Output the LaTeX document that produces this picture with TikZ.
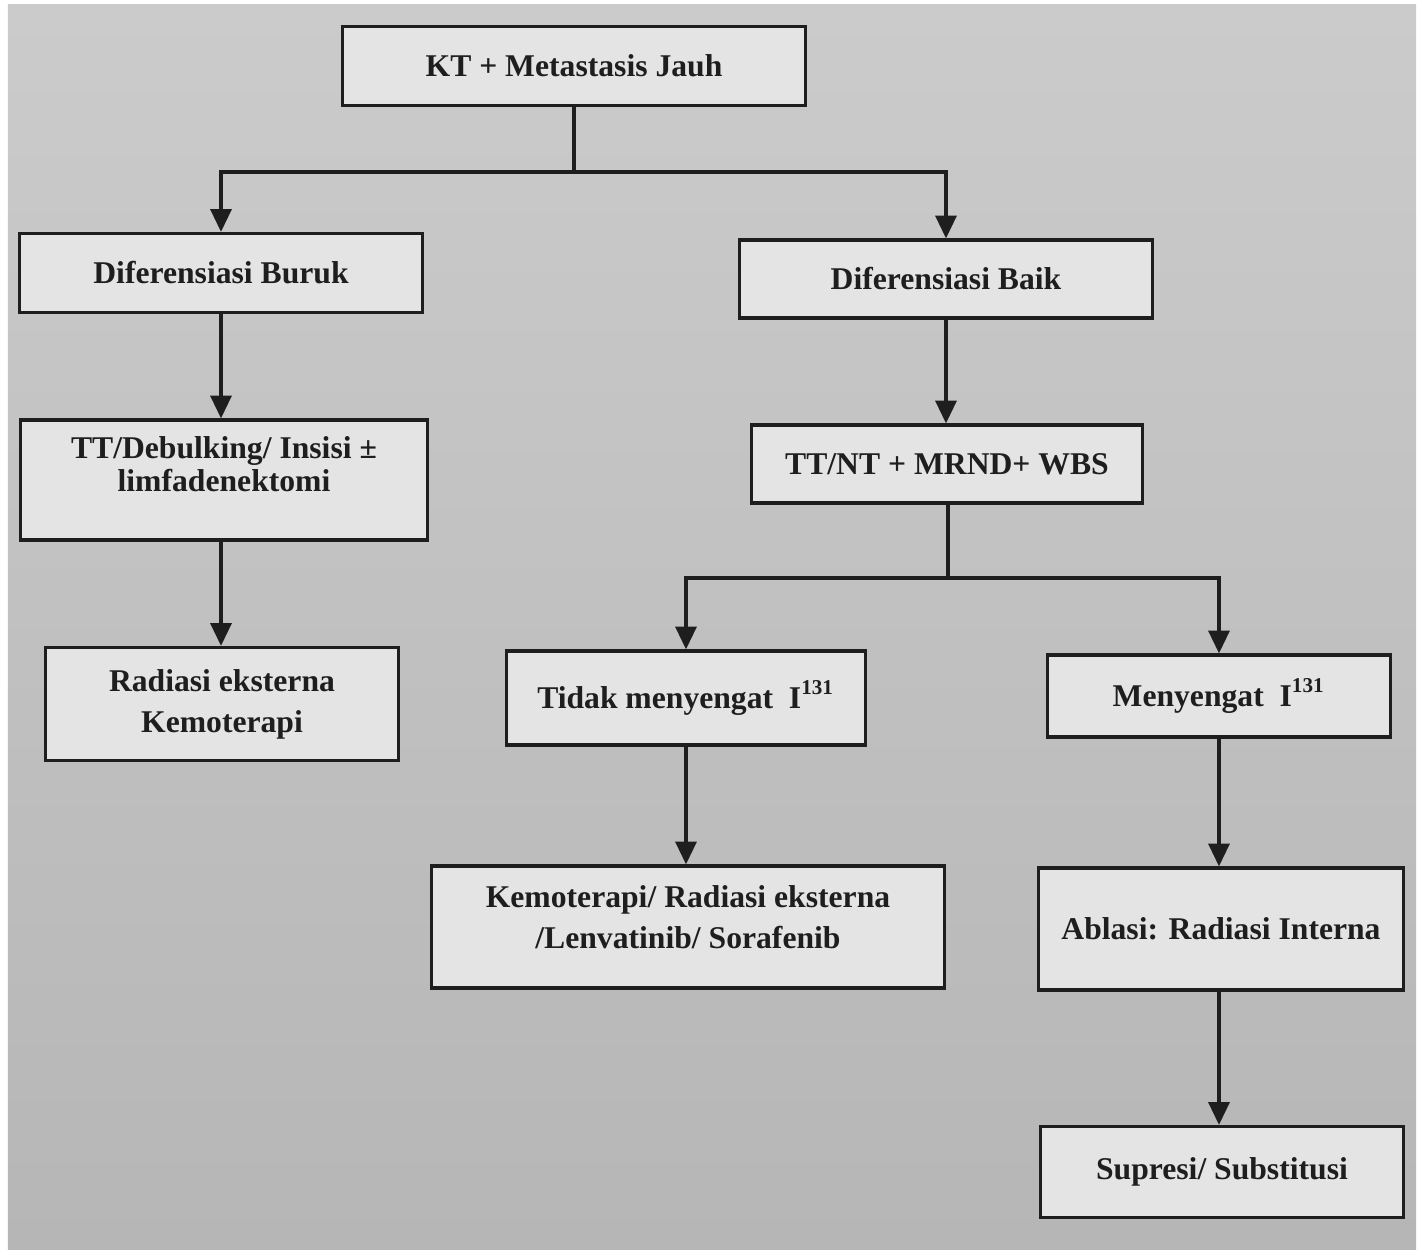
\documentclass[tikz,border=0pt]{standalone}
\usepackage{fontspec}
\setmainfont{Liberation Serif}
\usetikzlibrary{arrows.meta,positioning}
\definecolor{bgtop}{RGB}{203,203,203}
\definecolor{bgbot}{RGB}{182,182,182}
\definecolor{boxfill}{RGB}{228,228,228}
\definecolor{ink}{RGB}{30,30,30}
\tikzset{
  box/.style={draw=ink, line width=0.9pt, fill=boxfill, rectangle, align=center,
    font=\bfseries\fontsize{9}{11.6}\selectfont, text=ink, inner sep=0pt},
  conn/.style={draw=ink, line width=0.9pt},
  arr/.style={conn, -{Triangle[width=6pt,length=6.5pt]}}
}
\begin{document}
\begin{tikzpicture}[x=0.01cm,y=-0.01cm]
\useasboundingbox (0,0) rectangle (1423,1255);
\fill[white] (0,0) rectangle (1423,1255);
\shade[top color=bgtop, bottom color=bgbot] (8,5) rectangle (1416,1250);

\node[box, minimum width=4.62cm, minimum height=0.79cm] (kt) at (574,66) {KT + Metastasis Jauh};
\node[box, minimum width=4.02cm, minimum height=0.79cm] (buruk) at (221,273) {Diferensiasi Buruk};
\node[box, minimum width=4.13cm, minimum height=0.78cm] (baik) at (946,279) {Diferensiasi Baik};
\node[box, minimum width=4.07cm, minimum height=1.20cm] (tt) at (224,480) {\raisebox{3.7pt}[\height][\depth]{\begin{tabular}{@{}c@{}}TT/Debulking/ Insisi ±\\[-2.2pt]limfadenektomi\end{tabular}}};
\node[box, minimum width=3.90cm, minimum height=0.78cm] (ttnt) at (947,464) {TT/NT + MRND+ WBS};
\node[box, minimum width=3.53cm, minimum height=1.13cm] (rad) at (222,704) {Radiasi eksterna\\Kemoterapi};
\node[box, minimum width=3.59cm, minimum height=0.94cm] (tidak) at (686,698) {Tidak menyengat\enspace I\textsuperscript{131}};
\node[box, minimum width=3.42cm, minimum height=0.82cm] (meny) at (1219,696) {Menyengat\enspace I\textsuperscript{131}};
\node[box, minimum width=5.13cm, minimum height=1.22cm] (kemo) at (688,927) {\raisebox{2pt}[\height][\depth]{\begin{tabular}{@{}c@{}}Kemoterapi/ Radiasi eksterna\\/Lenvatinib/ Sorafenib\end{tabular}}};
\node[box, minimum width=3.64cm, minimum height=1.22cm] (abl) at (1221,929) {Ablasi: Radiasi Interna};
\node[box, minimum width=3.62cm, minimum height=0.91cm] (sup) at (1222,1172) {Supresi/ Substitusi};

\coordinate (j1) at (574,172);
\coordinate (j2) at (948,578);

\draw[conn] (kt.south) -- (j1);
\draw[arr] (j1) -| (buruk.north);
\draw[arr] (j1) -| (baik.north);
\draw[arr] (buruk.south) -- (tt.north -| buruk.south);
\draw[arr] (tt.south -| buruk.south) -- (rad.north -| buruk.south);
\draw[arr] (baik.south) -- (ttnt.north -| baik.south);
\draw[conn] (ttnt.south -| j2) -- (j2);
\draw[arr] (j2) -| (tidak.north);
\draw[arr] (j2) -| (meny.north);
\draw[arr] (tidak.south) -- (kemo.north -| tidak.south);
\draw[arr] (meny.south) -- (abl.north -| meny.south);
\draw[arr] (abl.south -| meny.south) -- (sup.north -| meny.south);
\end{tikzpicture}
\end{document}
